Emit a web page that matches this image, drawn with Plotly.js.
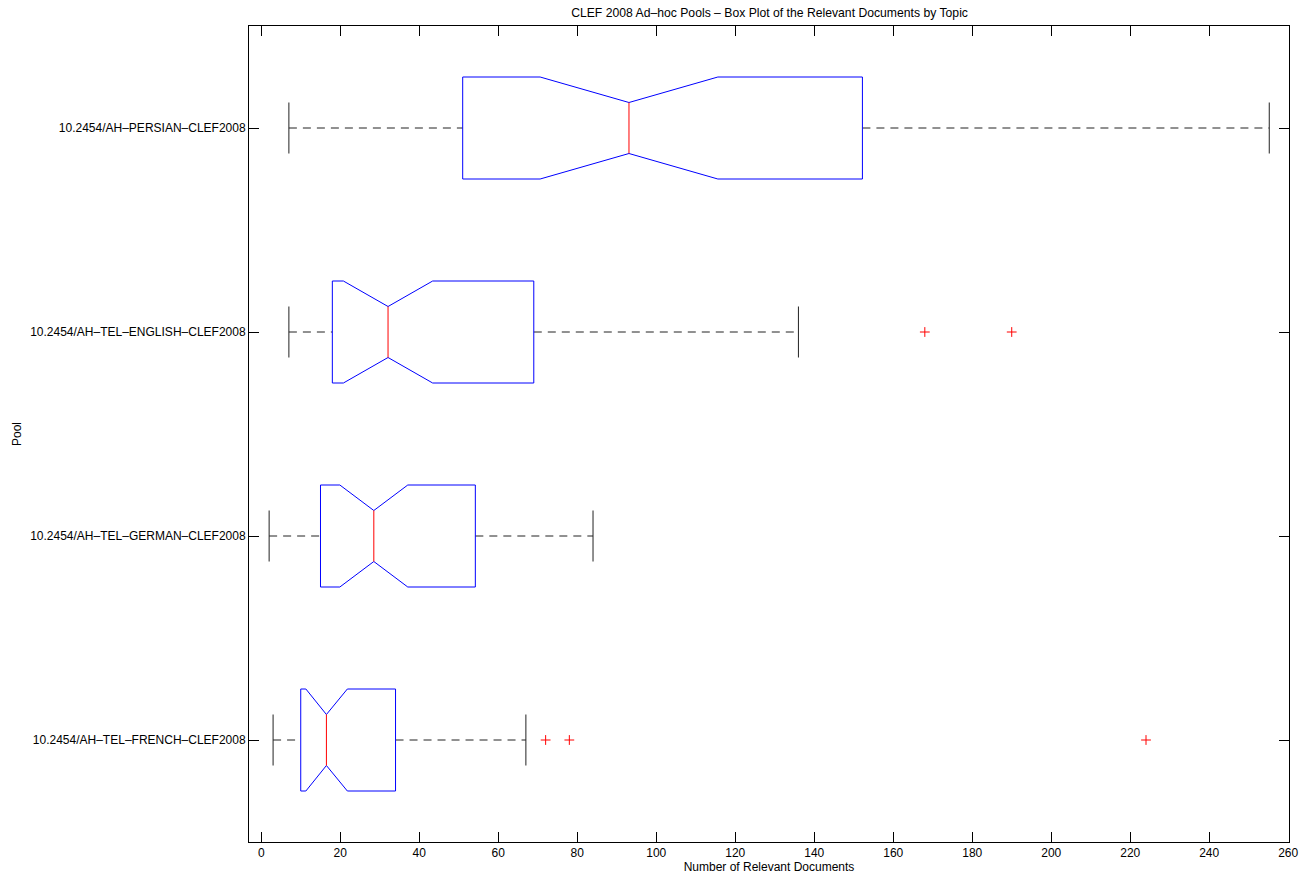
<!DOCTYPE html>
<html>
<head>
<meta charset="utf-8">
<script src="https://cdn.plot.ly/plotly-3.0.1.min.js"></script>
<style>html,body{margin:0;padding:0;background:#fff;}#chart{width:1303px;height:879px;}</style>
</head>
<body>
<div id="chart"></div>
<script>
// Pools, listed bottom to top
const pools = ["10.2454/AH–TEL–FRENCH–CLEF2008", "10.2454/AH–TEL–GERMAN–CLEF2008", "10.2454/AH–TEL–ENGLISH–CLEF2008", "10.2454/AH–PERSIAN–CLEF2008"];
const whiskerLow  = [3, 2, 7, 7];
const q1          = [10, 15, 18, 51];
const notchLow    = [11.3, 19.9, 20.8, 70.6];
const median      = [16.5, 28.5, 32.1, 93.1];
const notchHigh   = [21.8, 37.1, 43.4, 115.6];
const q3          = [34, 54.2, 69, 152.2];
const whiskerHigh = [67, 84, 136, 255.2];
const outliers    = [[72, 78, 224], [], [168, 190], []];
const xTickVals   = [0, 20, 40, 60, 80, 100, 120, 140, 160, 180, 200, 220, 240, 260];

const HW = 0.25;   // box half height (category units)
const NW = 0.125;  // notch / cap half height

const boxX = [], boxY = [], medX = [], medY = [], whX = [], whY = [], capX = [], capY = [], outX = [], outY = [];
const yPos = pools.map((p, i) => i + 1);
pools.forEach((p, i) => {
  const y = yPos[i];
  boxX.push(q1[i], notchLow[i], median[i], notchHigh[i], q3[i], q3[i], notchHigh[i], median[i], notchLow[i], q1[i], q1[i], null);
  boxY.push(y - HW, y - HW, y - NW, y - HW, y - HW, y + HW, y + HW, y + NW, y + HW, y + HW, y - HW, null);
  medX.push(median[i], median[i], null);
  medY.push(y - NW, y + NW, null);
  whX.push(whiskerLow[i], q1[i], null, q3[i], whiskerHigh[i], null);
  whY.push(y, y, null, y, y, null);
  capX.push(whiskerLow[i], whiskerLow[i], null, whiskerHigh[i], whiskerHigh[i], null);
  capY.push(y - NW, y + NW, null, y - NW, y + NW, null);
  outliers[i].forEach(v => { outX.push(v); outY.push(y); });
});

const FONT = "Liberation Sans, Helvetica, Arial, sans-serif";
const traces = [
  {type: "scatter", mode: "lines", x: whX, y: whY, line: {color: "#222", width: 1, dash: "8px,6px"}, hoverinfo: "skip", showlegend: false},
  {type: "scatter", mode: "lines", x: capX, y: capY, line: {color: "#222", width: 1}, hoverinfo: "skip", showlegend: false},
  {type: "scatter", mode: "lines", x: boxX, y: boxY, line: {color: "#0000ff", width: 1}, hoverinfo: "skip", showlegend: false},
  {type: "scatter", mode: "lines", x: medX, y: medY, line: {color: "#ff0000", width: 1}, hoverinfo: "skip", showlegend: false},
  {type: "scatter", mode: "markers", x: outX, y: outY, marker: {symbol: "cross-thin", size: 7, line: {color: "#ff0000", width: 1}}, hoverinfo: "x", showlegend: false}
];

const layout = {
  width: 1303, height: 879,
  margin: {l: 249, r: 14, t: 26, b: 37},
  paper_bgcolor: "#fff", plot_bgcolor: "#fff",
  font: {family: FONT, size: 12, color: "#000"},
  title: {text: "CLEF 2008 Ad–hoc Pools – Box Plot of the Relevant Documents by Topic", font: {family: FONT, size: 12.2, color: "#000"}, x: 0.5906, xanchor: "center", y: 0.986, yref: "container", yanchor: "middle"},
  xaxis: {
    range: [-3.1, 260.2], tickvals: xTickVals, ticktext: xTickVals.map(String),
    showgrid: false, zeroline: false, showline: true, linecolor: "#000", linewidth: 1,
    mirror: "ticks", ticks: "inside", ticklen: 10, tickcolor: "#000", tickwidth: 1,
    tickfont: {family: FONT, size: 12, color: "#000"},
    title: {text: "Number of Relevant Documents", font: {family: FONT, size: 12, color: "#000"}, standoff: 3}
  },
  yaxis: {
    range: [0.5, 4.5], tickvals: yPos, ticktext: pools, automargin: true,
    showgrid: false, zeroline: false, showline: true, linecolor: "#000", linewidth: 1,
    mirror: "ticks", ticks: "inside", ticklen: 10, tickcolor: "#000", tickwidth: 1,
    tickfont: {family: FONT, size: 12, color: "#000"},
    title: {text: "Pool", font: {family: FONT, size: 12, color: "#000"}, standoff: 5}
  }
};

Plotly.newPlot("chart", traces, layout, {staticPlot: true, displayModeBar: false});
</script>
</body>
</html>
